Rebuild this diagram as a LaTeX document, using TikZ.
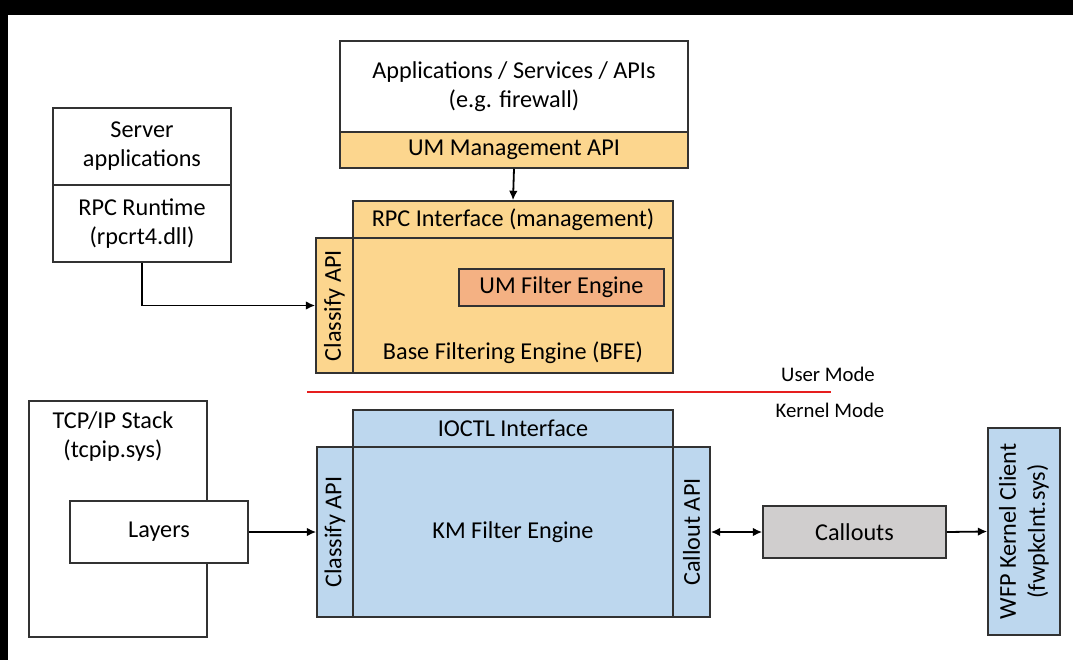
\documentclass[tikz,border=0pt]{standalone}
\usepackage{fontspec}
\setmainfont{Carlito}
\usepackage{tikz}
\usetikzlibrary{arrows.meta}
\tikzset{>={Latex[width=2.2mm,length=2.4mm]}}

\definecolor{bfeorange}{RGB}{252,214,142}
\definecolor{umsalmon}{RGB}{244,177,131}
\definecolor{kmblue}{RGB}{189,215,238}
\definecolor{calloutgray}{RGB}{208,206,206}
\definecolor{edgegray}{RGB}{50,50,50}
\definecolor{modered}{RGB}{230,30,30}

\tikzset{
  box/.style={shape=rectangle,draw=edgegray,line width=1.1pt,inner sep=1pt,align=center,font=\fontsize{17.5}{21}\selectfont},
  whitebox/.style={box,fill=white},
  orangebox/.style={box,fill=bfeorange},
  bluebox/.style={box,fill=kmblue},
  sidetext/.style={rotate=90},
  plaintext/.style={align=center,font=\fontsize{17.5}{21}\selectfont},
  smalltext/.style={font=\fontsize{15}{18}\selectfont},
  link/.style={line width=1.3pt}
}

\begin{document}
\begin{tikzpicture}

\fill[black] (0in,0in) rectangle (10.73in,-6.6in);
\fill[white] (0.08in,-0.15in) rectangle (10.73in,-6.6in);
\useasboundingbox (0in,0in) rectangle (10.73in,-6.6in);

% user mode
\path (5.14in,-0.865in) node (apps) [whitebox,minimum height=0.91in,minimum width=3.48in]{Applications / Services / APIs\\(e.g. firewall)};

\path (5.14in,-1.5in) node (umapi) [orangebox,minimum height=0.36in,minimum width=3.48in]{UM Management API};

\path (5.13in,-2.195in) node (rpc) [orangebox,minimum height=0.37in,minimum width=3.2in]{RPC Interface (management)};

\path (5.13in,-3.055in) node (bfe) [orangebox,minimum height=1.35in,minimum width=3.2in]{};

\path (5.13in,-3.53in) node (bfetxt) [plaintext]{Base Filtering Engine (BFE)};

\path (3.345in,-3.055in) node (classifyum) [orangebox,minimum height=0.37in,minimum width=1.35in,sidetext]{Classify API};

\path (5.615in,-2.875in) node (umfe) [box,fill=umsalmon,minimum height=0.37in,minimum width=2.05in]{UM Filter Engine};

\path (1.42in,-1.465in) node (srvapps) [whitebox,minimum height=0.77in,minimum width=1.78in]{Server\\applications};

\path (1.42in,-2.235in) node (rpcrt) [whitebox,minimum height=0.77in,minimum width=1.78in]{RPC Runtime\\(rpcrt4.dll)};

% mode separator
\draw[modered,line width=1.2pt] (3.07in,-3.92in) -- (8.31in,-3.92in);
\path (8.28in,-3.74in) node (usermode) [smalltext]{User Mode};
\path (8.3in,-4.1in) node (kernelmode) [smalltext]{Kernel Mode};

% kernel mode
\path (1.18in,-5.19in) node (tcpip) [whitebox,minimum height=2.36in,minimum width=1.78in]{};

\path (1.13in,-4.37in) node (tcpiptxt) [plaintext]{TCP/IP Stack\\(tcpip.sys)};

\path (1.59in,-5.32in) node (layers) [whitebox,minimum height=0.62in,minimum width=1.78in]{Layers};

\path (5.13in,-4.285in) node (ioctl) [bluebox,minimum height=0.37in,minimum width=3.2in]{IOCTL Interface};

\path (5.13in,-5.32in) node (kmfe) [bluebox,minimum height=1.7in,minimum width=3.2in]{KM Filter Engine};

\path (3.35in,-5.32in) node (classifykm) [bluebox,minimum height=0.36in,minimum width=1.7in,sidetext]{Classify API};

\path (6.915in,-5.32in) node (calloutapi) [bluebox,minimum height=0.37in,minimum width=1.7in,sidetext]{Callout API};

\path (8.545in,-5.32in) node (callouts) [box,fill=calloutgray,minimum height=0.52in,minimum width=1.83in]{Callouts};

\path (10.24in,-5.315in) node (wfp) [bluebox,minimum height=0.72in,minimum width=2.07in,sidetext]{WFP Kernel Client\\(fwpkclnt.sys)};

% connectors
\draw[->,link] (umapi.south) -- (rpc.north);
\draw[->,link] (rpcrt.south) |- (classifyum.north);
\draw[->,link] (layers.east) -- (classifykm.north);
\draw[<->,link] (calloutapi.south) -- (callouts.west);
\draw[->,link] (callouts.east) -- (wfp.north);

\end{tikzpicture}
\end{document}
